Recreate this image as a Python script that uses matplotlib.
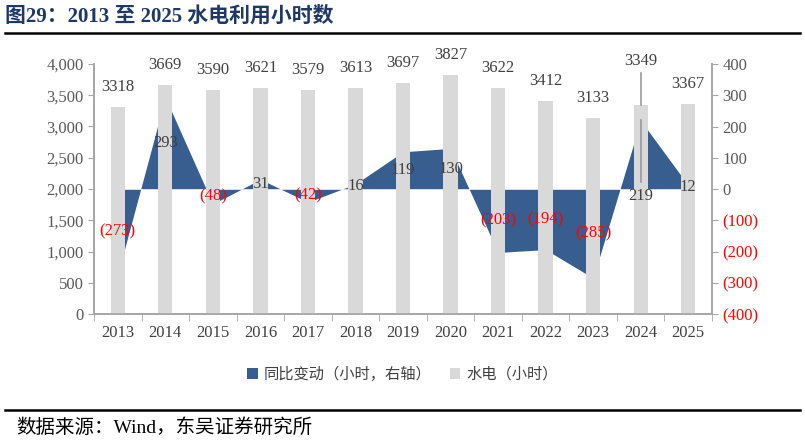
import matplotlib
matplotlib.use("Agg")

import matplotlib.pyplot as plt
from matplotlib.patches import Patch
from matplotlib.ticker import FuncFormatter, MultipleLocator
import numpy as np

plt.rcParams['font.family'] = ['Liberation Serif', 'Noto Sans CJK SC']

# data
years = ["2013", "2014", "2015", "2016", "2017", "2018", "2019",
         "2020", "2021", "2022", "2023", "2024", "2025"]
hours = [3318, 3669, 3590, 3621, 3579, 3613, 3697, 3827, 3622, 3412, 3133, 3349, 3367]
yoy = [-273, 293, -48, 31, -42, 16, 119, 130, -203, -194, -285, 219, 12]

BLUE = "#375E8F"
GREY_BAR = "#D9D9D9"
SPINE = "#A6A6A6"
TXT = "#404040"

x = np.arange(len(years))

fig = plt.figure(figsize=(8.05, 4.44), dpi=100)
ax = fig.add_axes([94 / 805, 1 - 314 / 444, 618 / 805, 250 / 444])
ax2 = ax.twinx()
ax.set_zorder(ax2.get_zorder() + 1)
ax.patch.set_visible(False)

# yoy area on right axis (behind bars)
ax2.fill_between(x, 0, yoy, color=BLUE, linewidth=0)
ax2.axhline(0, color="white", lw=0.6, alpha=0.7)
ax2.set_ylim(-400, 400)
ax2.set_yticks(np.arange(-400, 401, 100))
ax2.yaxis.set_major_formatter(FuncFormatter(
    lambda v, p: "(%d)" % abs(v) if v < 0 else "%d" % v))

# bars on left axis
ax.bar(x, hours, width=0.3, color=GREY_BAR, zorder=2)
ax.set_ylim(0, 4000)
ax.set_xlim(-0.5, len(years) - 0.5)
ax.yaxis.set_major_locator(MultipleLocator(500))
ax.yaxis.set_major_formatter(FuncFormatter(lambda v, p: "{:,.0f}".format(v)))

# odd leader line at 2024
i24 = years.index("2024")
ax.plot([i24, i24], [hours[i24], 3860], color="#9A9A9A", lw=1.2, zorder=3)
ax.plot([i24, i24], [2110, 3100], color="#9A9A9A", lw=1.2, zorder=3)

# bar labels
for i, h in enumerate(hours):
    off = 3.2 if years[i] != "2024" else 7
    ax.text(i, h + off * 100, str(h), ha="center", va="center",
            fontsize=12, color=TXT, zorder=4)

# yoy labels (centered in area), drawn above the bars
for i, v in enumerate(yoy):
    yy = v / 2
    if years[i] == "2024":
        yy = -22
    s = "(%d)" % abs(v) if v < 0 else "%d" % v
    ax.text(i, yy, s, transform=ax2.transData, ha="center", va="center",
            fontsize=12, color="#FF0000" if v < 0 else TXT, zorder=5)

# x axis
ax.set_xticks(x)
ax.set_xticklabels(years)
ax.set_xticks(np.arange(-0.5, len(years), 1), minor=True)
ax.tick_params(axis="x", which="major", length=0, pad=8, labelsize=12, labelcolor=TXT)
ax.tick_params(axis="x", which="minor", length=5, color=SPINE, direction="out")
ax.tick_params(axis="y", length=4, color=SPINE, labelsize=12, labelcolor="#595959")
ax2.tick_params(axis="y", length=4, color=SPINE, labelsize=12, labelcolor="#595959")
for lab, v in zip(ax2.get_yticklabels(), np.arange(-400, 401, 100)):
    if v < 0:
        lab.set_color("#FF0000")

for a in (ax, ax2):
    a.spines["top"].set_visible(False)
    for s in ("left", "right", "bottom"):
        a.spines[s].set_color(SPINE)
        a.spines[s].set_linewidth(1.2)

# legend
handles = [Patch(facecolor=BLUE, label="同比变动（小时，右轴）"),
           Patch(facecolor=GREY_BAR, label="水电（小时）")]
fig.legend(handles=handles, loc="center", bbox_to_anchor=(0.5, 1 - 374 / 444),
           ncol=2, frameon=False, handlelength=0.7, handleheight=0.7,
           handletextpad=0.4, columnspacing=1.2,
           prop={"family": ["Noto Sans CJK SC"], "size": 11}, labelcolor=TXT)

# title and source
fig.text(5 / 805, 1 - 16 / 444, "图29：2013 至 2025 水电利用小时数", ha="left", va="center",
         fontsize=15, fontweight="bold", color="#1F3864",
         family=["Liberation Serif", "Noto Sans CJK SC"])
fig.add_artist(plt.Line2D([5 / 805, 800 / 805], [1 - 33 / 444] * 2, color="black", lw=1.8))
fig.add_artist(plt.Line2D([5 / 805, 800 / 805], [1 - 410 / 444] * 2, color="black", lw=1.8))
fig.text(16 / 805, 1 - 428 / 444, "数据来源：Wind，东吴证券研究所", ha="left", va="center",
         fontsize=14, color="black", family=["Liberation Serif", "Noto Sans CJK SC"])

plt.savefig("out.png", dpi=100)
